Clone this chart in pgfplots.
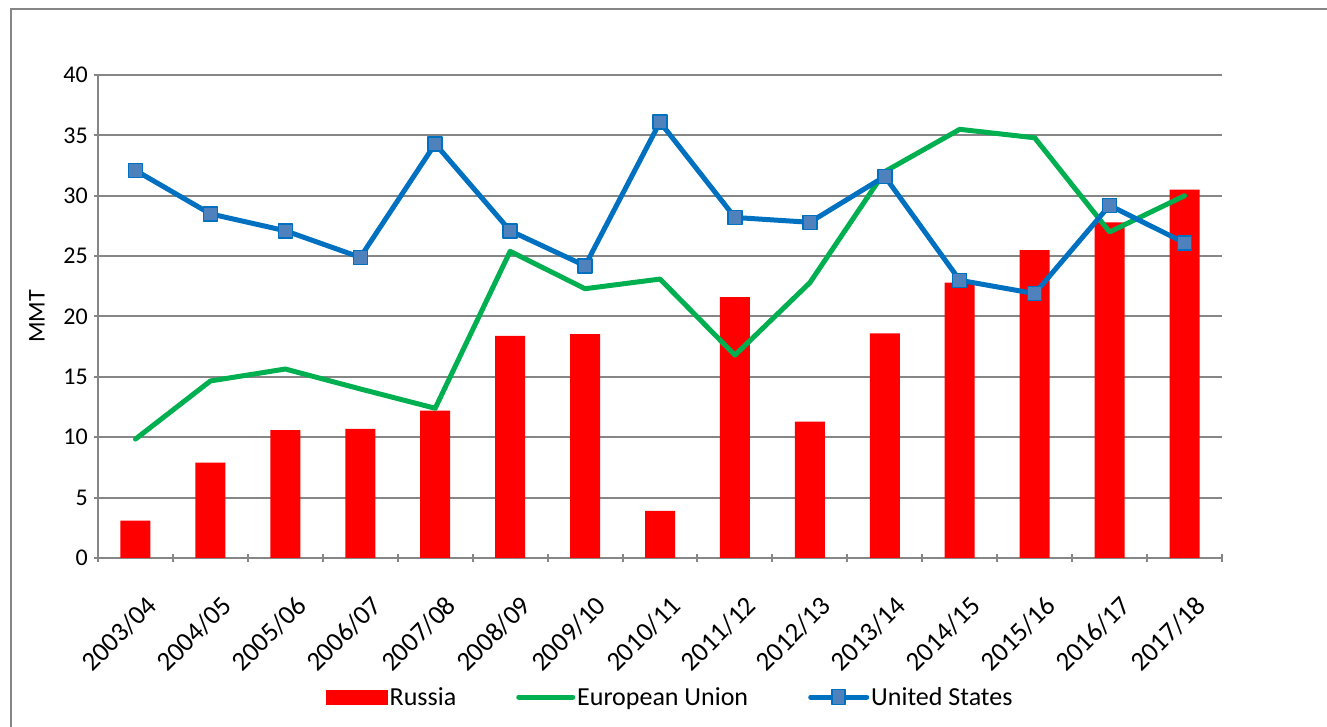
\documentclass[border=0pt]{standalone}
\usepackage{pgfplots}
\pgfplotsset{compat=1.18}
\usepackage{fontspec}
\setmainfont{Carlito}
\definecolor{rus}{HTML}{FF0000}
\definecolor{eu}{HTML}{00B050}
\definecolor{usline}{HTML}{0070C0}
\definecolor{usfill}{HTML}{4F81BD}
\definecolor{gridgray}{HTML}{868686}
\begin{document}
\begin{tikzpicture}[x=1pt,y=1pt]
\useasboundingbox (0,0) rectangle (1327,727);
\draw[color=gridgray, line width=2pt] (11,0) -- (11,718) -- (1327,718);
\begin{axis}[
  at={(98pt,169pt)}, anchor=south west,
  scale only axis, width=1124pt, height=483pt,
  xmin=-0.5, xmax=14.5, ymin=0, ymax=40,
  ytick={0,5,...,40},
  xtick={0,...,14},
  xticklabels={2003/04,2004/05,2005/06,2006/07,2007/08,2008/09,2009/10,2010/11,2011/12,2012/13,2013/14,2014/15,2015/16,2016/17,2017/18},
  minor xtick={-0.5,0.5,...,14.5},
  major x tick style={draw=none},
  tick align=outside,
  major tick length=8pt, minor tick length=8pt,
  tick style={gridgray, line width=2pt},
  axis x line=bottom, axis y line=left,
  axis line style={-, gridgray, line width=2pt},
  ymajorgrids, grid style={gridgray, line width=2pt},
  /pgf/number format/assume math mode=true,
  tick label style={font=\fontsize{24}{28}\selectfont, black},
  yticklabel style={anchor=east, inner sep=0pt, xshift=-6pt},
  xticklabel style={rotate=45, anchor=north east, inner sep=0pt, yshift=-29pt, xshift=-16pt, font=\fontsize{27}{31}\selectfont},
  ylabel={MMT},
  ylabel style={at={(axis description cs:-0.0543,0.5)}, anchor=center, font=\fontsize{24}{28}\selectfont},
  legend columns=3,
  legend style={at={(0.509,-0.288)}, anchor=center, draw=none, fill=none,
    font=\fontsize{26}{30}\selectfont,
    /tikz/every even column/.append style={column sep=58pt},
    cells={anchor=west}},
]
\addplot[ybar, bar width=30pt, fill=rus, draw=none,
  legend image code/.code={\fill[rus] (0pt,-7.5pt) rectangle (62pt,7.5pt);}]
  coordinates {(0,3.1) (1,7.9) (2,10.6) (3,10.7) (4,12.2) (5,18.4) (6,18.55) (7,3.9) (8,21.6) (9,11.3) (10,18.6) (11,22.8) (12,25.5) (13,27.8) (14,30.5)};
\addlegendentry{Russia}
\addplot[eu, line width=5pt, line join=round, line cap=round, mark=none,
  legend image code/.code={\draw[eu, line width=5pt, line cap=round] (0pt,0pt) -- (54pt,0pt);}]
  coordinates {(0,9.85) (1,14.66) (2,15.65) (3,14.0) (4,12.4) (5,25.4) (6,22.3) (7,23.1) (8,16.8) (9,22.8) (10,32.0) (11,35.5) (12,34.8) (13,27.0) (14,30.0)};
\addlegendentry{European Union}
\addplot[usline, line width=5pt, line join=round, mark=square*,
  mark options={fill=usfill, draw=usline, line width=1.5pt, solid}, mark size=7pt,
  legend image code/.code={\draw[usline, line width=5pt, line cap=round] (0pt,0pt) -- (56pt,0pt);
     \draw[fill=usfill, draw=usline, line width=1.5pt] (21.5pt,-7.5pt) rectangle (34.5pt,7.5pt);}]
  coordinates {(0,32.1) (1,28.5) (2,27.1) (3,24.9) (4,34.3) (5,27.1) (6,24.2) (7,36.1) (8,28.2) (9,27.8) (10,31.6) (11,23.0) (12,21.9) (13,29.2) (14,26.1)};
\addlegendentry{United States}
\end{axis}
\end{tikzpicture}
\end{document}
